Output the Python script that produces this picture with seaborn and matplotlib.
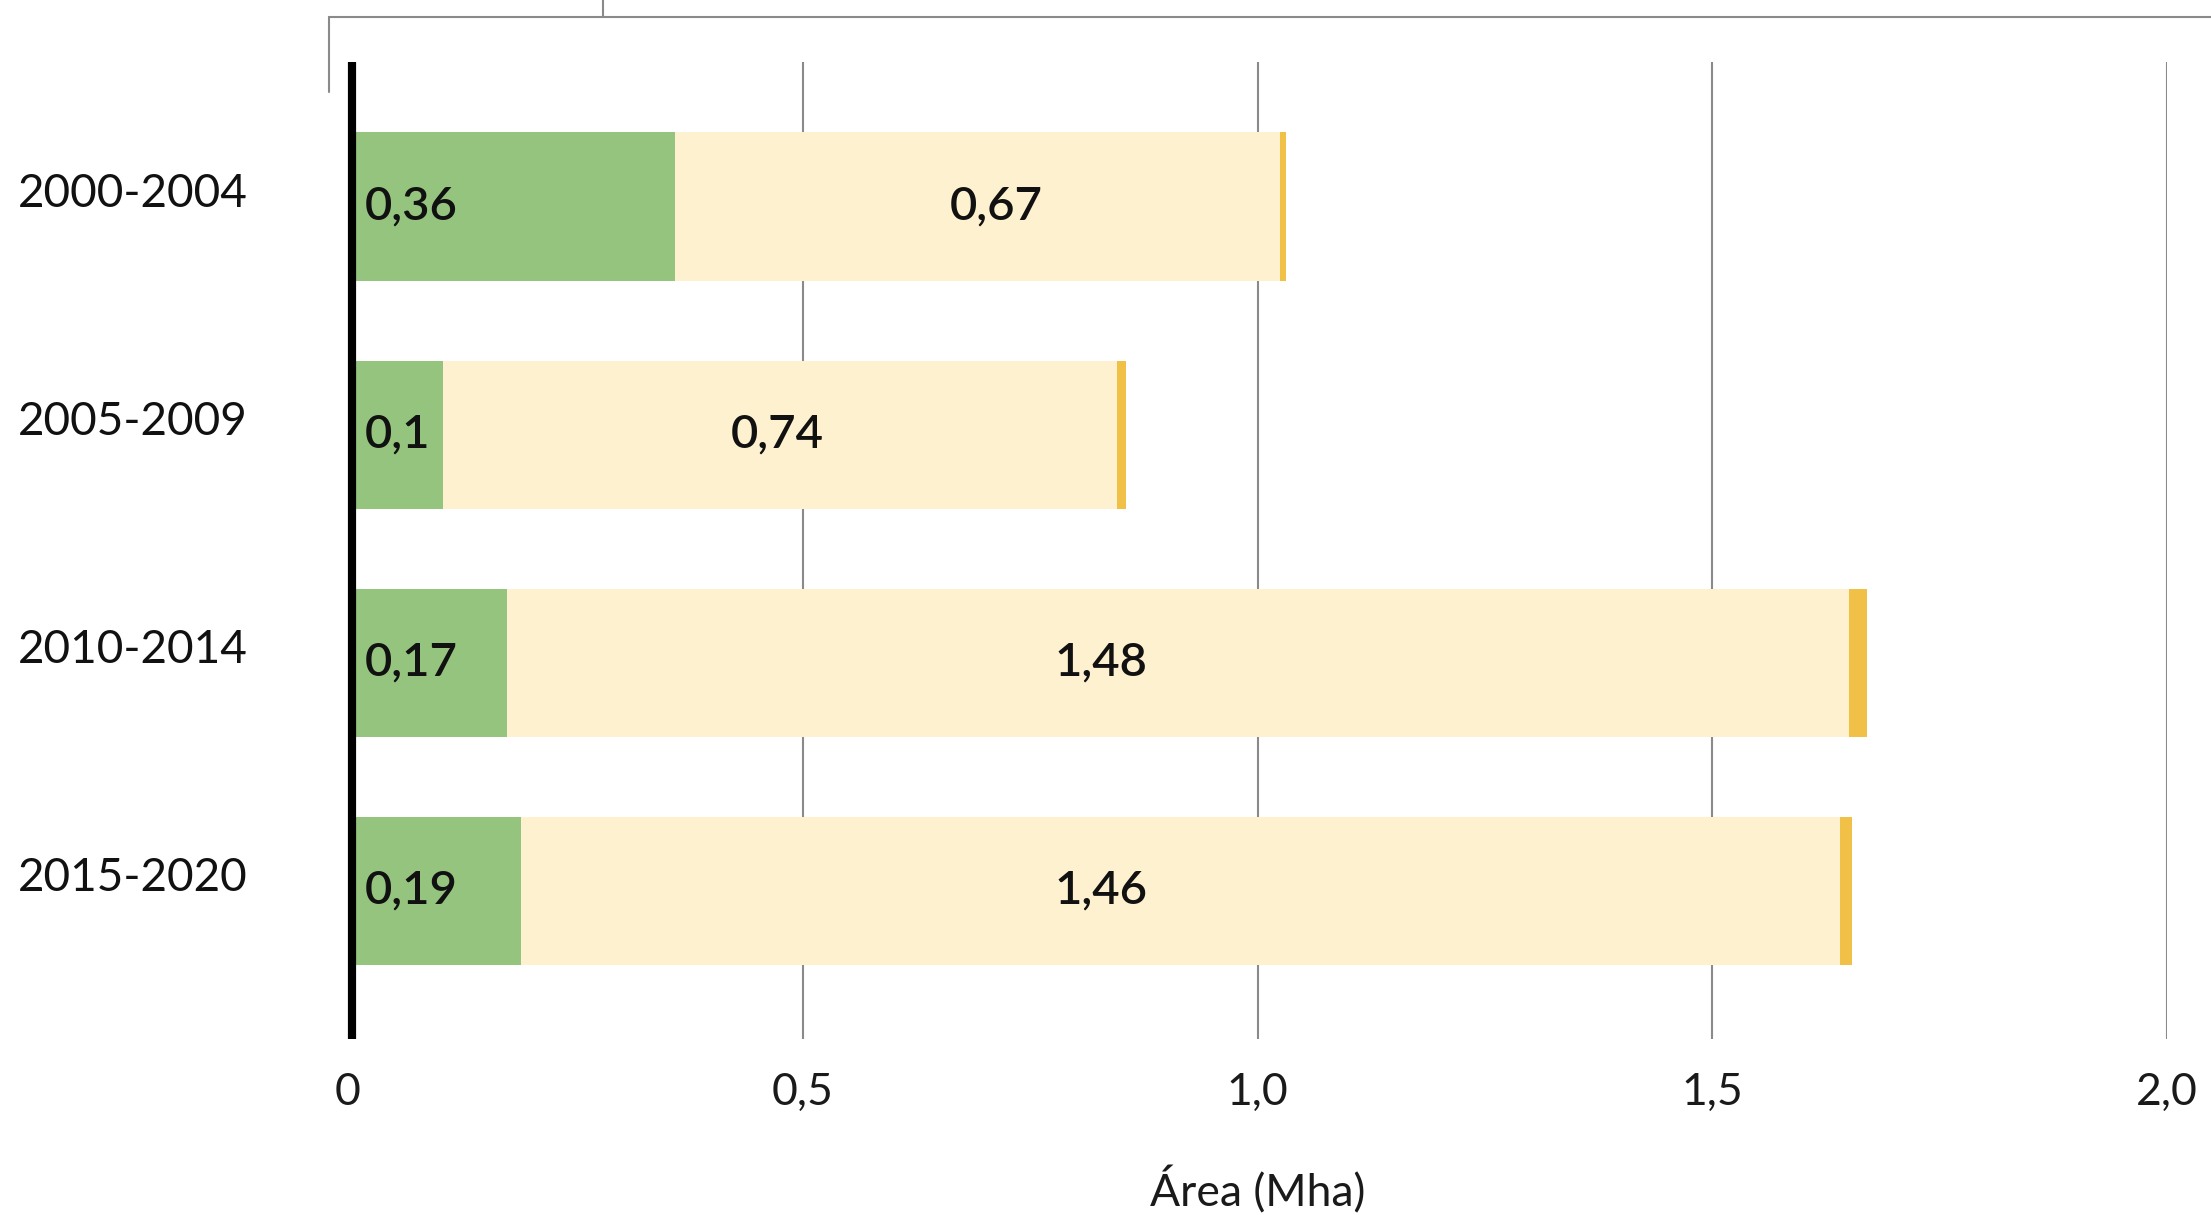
import matplotlib
matplotlib.use("Agg")
import matplotlib.pyplot as plt
import matplotlib.transforms as mtransforms
from matplotlib.lines import Line2D
import seaborn as sns
import pandas as pd

# ---- data ----
periods = ["2000-2004", "2005-2009", "2010-2014", "2015-2020"]
green_vals = [0.36, 0.105, 0.175, 0.19]
cream_vals = [0.665, 0.74, 1.475, 1.45]
yellow_vals = [0.006, 0.010, 0.020, 0.014]
green_labels = ["0,36", "0,1", "0,17", "0,19"]
cream_labels = ["0,67", "0,74", "1,48", "1,46"]
cream_label_x = [0.713, 0.472, 0.828, 0.828]
x_ticks = [0, 0.5, 1.0, 1.5, 2.0]
x_tick_labels = ["0", "0,5", "1,0", "1,5", "2,0"]
x_label = "Área (Mha)"

GREEN = "#95C47F"
CREAM = "#FEF1CF"
YELLOW = "#F0C146"
GRID = "#8a8a8a"
TEXT = "#111111"

sns.set_theme(style="white")
plt.rcParams["font.family"] = ["Lato", "DejaVu Sans"]

df = pd.DataFrame({
    "period": periods,
    "green": green_vals,
    "cream": cream_vals,
    "yellow": yellow_vals,
})
df["gc"] = df["green"] + df["cream"]
df["total"] = df["gc"] + df["yellow"]

fig = plt.figure(figsize=(22.11, 12.15), dpi=100)
ax = fig.add_axes([348 / 2211, 1 - 1039 / 1215, (2167 - 348) / 2211, (1039 - 62) / 1215])

for col, color in [("total", YELLOW), ("gc", CREAM), ("green", GREEN)]:
    sns.barplot(data=df, x=col, y="period", color=color, width=0.65,
                saturation=1, orient="h", ax=ax, zorder=2, edgecolor="none",
                linewidth=0)

ax.set_xlim(0, 2.0)
ax.set_ylim(3.649, -0.634)

# gridlines
for t in x_ticks[1:]:
    ax.axvline(t, color=GRID, lw=1.5, zorder=1)

for s in ["top", "right", "bottom"]:
    ax.spines[s].set_visible(False)
left = ax.spines["left"]
left.set_color("black")
left.set_linewidth(5.9)
left.set_zorder(5)
left.set_capstyle("butt")
left.set_position(("outward", -2.9))

ax.set_xticks(x_ticks)
ax.set_xticklabels(x_tick_labels)
ax.tick_params(axis="x", length=0, pad=24, labelsize=32, labelcolor="#1a1a1a")
ax.tick_params(axis="y", length=0, pad=158, labelsize=33, labelcolor=TEXT)
for lab in ax.get_xticklabels():
    lab.set_fontweight("normal")
offset = mtransforms.ScaledTranslation(0, 0.17, fig.dpi_scale_trans)
for lab in ax.get_yticklabels():
    lab.set_ha("center")
    lab.set_fontweight("normal")
    lab.set_transform(lab.get_transform() + offset)

ax.set_ylabel("")
ax.set_xlabel(x_label, fontsize=32, fontweight="normal", color="#1a1a1a", labelpad=38)

# value labels
for i in range(len(periods)):
    ax.text(0.018, i, green_labels[i], ha="left", va="center", fontsize=34,
            fontweight="semibold", color=TEXT, zorder=6)
    ax.text(cream_label_x[i], i, cream_labels[i], ha="center", va="center",
            fontsize=34, fontweight="semibold", color=TEXT, zorder=6)

# clipped legend frame at the top
W, H = 2211, 1215
def fx(px):
    return px / W
def fy(py):
    return 1 - py / H
fig.add_artist(Line2D([fx(329), 1.0], [fy(17), fy(17)], color=GRID, lw=1.5))
fig.add_artist(Line2D([fx(329), fx(329)], [fy(17), fy(92)], color=GRID, lw=1.5))
fig.add_artist(Line2D([fx(603), fx(603)], [fy(0), fy(17)], color=GRID, lw=1.5))

fig.savefig("out.png", dpi=100, facecolor="white")
